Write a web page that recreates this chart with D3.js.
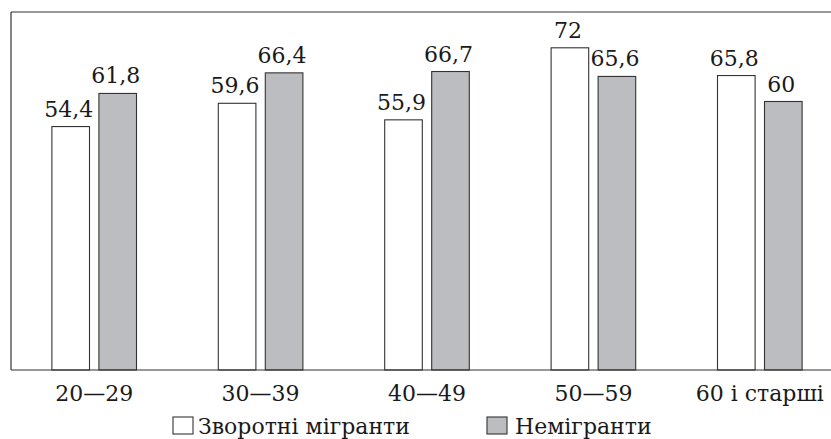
<!DOCTYPE html>
<html>
<head>
<meta charset="utf-8">
<script src="https://cdn.jsdelivr.net/npm/d3@7"></script>
<style>
  html, body { margin: 0; padding: 0; background: #fff; }
  svg { display: block; }
</style>
</head>
<body>
<script>
// age groups and the two series (percent)
const groups = ['20—29', '30—39', '40—49', '50—59', '60 і старші'];
const returnMigrants = [54.4, 59.6, 55.9, 72, 65.8];
const nonMigrants = [61.8, 66.4, 66.7, 65.6, 60];
const seriesNames = ['Зворотні мігранти', 'Немігранти'];
const seriesFill = ['#ffffff', '#bcbdc0'];

const FONT = "'DejaVu Serif', serif";
const width = 831;
const height = 439;
const margin = { top: 12, bottom: 69, left: 11 };
const step = 166.4;

const svg = d3.select('body').append('svg')
  .attr('width', width)
  .attr('height', height)
  .style('font-family', FONT);

const x = d3.scaleBand()
  .domain(groups)
  .range([margin.left, margin.left + step * groups.length]);

const inner = d3.scaleBand()
  .domain([0, 1])
  .range([x.bandwidth() / 2 - 42.3, x.bandwidth() / 2 + 42.3])
  .paddingInner(0.2);

const y = d3.scaleLinear()
  .domain([0, 80])
  .range([height - margin.bottom, margin.top]);

const fmt = v => String(v).replace('.', ',');

const rows = groups.map((g, i) => ({
  group: g,
  values: [returnMigrants[i], nonMigrants[i]],
}));

const g = svg.selectAll('g.group')
  .data(rows)
  .enter().append('g')
    .attr('class', 'group')
    .attr('transform', d => `translate(${x(d.group)},0)`);

g.selectAll('rect')
  .data(d => d.values.map((v, k) => ({ v, k })))
  .enter().append('rect')
    .attr('x', d => inner(d.k))
    .attr('y', d => y(d.v))
    .attr('width', inner.bandwidth())
    .attr('height', d => y(0) - y(d.v))
    .attr('fill', d => seriesFill[d.k])
    .attr('stroke', '#333')
    .attr('stroke-width', 1.1);

g.selectAll('text.value')
  .data(d => d.values.map((v, k) => ({ v, k })))
  .enter().append('text')
    .attr('class', 'value')
    .attr('x', d => inner(d.k) + inner.bandwidth() / 2 - 2)
    .attr('y', d => y(d.v) - 10)
    .attr('text-anchor', 'middle')
    .style('font-family', FONT)
    .attr('font-size', 22)
    .attr('fill', '#1a1a1a')
    .text(d => fmt(d.v));

// frame: left, top and baseline (no right edge, it runs off the picture)
const frame = svg.append('g')
  .attr('fill', 'none')
  .attr('stroke', '#333')
  .attr('stroke-width', 1.2);
frame.append('line')
  .attr('x1', margin.left).attr('x2', width)
  .attr('y1', y(80)).attr('y2', y(80));
frame.append('line')
  .attr('x1', margin.left).attr('x2', width)
  .attr('y1', y(0)).attr('y2', y(0));
frame.append('line')
  .attr('x1', margin.left).attr('x2', margin.left)
  .attr('y1', y(80)).attr('y2', y(0));

// category labels
svg.append('g')
  .attr('transform', `translate(0,${y(0)})`)
  .call(d3.axisBottom(x).tickSize(0).tickPadding(0))
  .call(sel => sel.select('.domain').remove())
  .attr('font-size', 22)
  .selectAll('text')
    .attr('dy', null)
    .attr('y', 31)
    .style('font-family', FONT)
    .attr('fill', '#1a1a1a');

// legend
const legendX = [173, 487];
const legend = svg.selectAll('g.legend')
  .data(seriesNames)
  .enter().append('g')
    .attr('class', 'legend')
    .attr('transform', (d, i) => `translate(${legendX[i]},417)`);
legend.append('rect')
  .attr('width', 20)
  .attr('height', 17)
  .attr('fill', (d, i) => seriesFill[i])
  .attr('stroke', '#333')
  .attr('stroke-width', 1.1);
legend.append('text')
  .attr('x', (d, i) => i ? 28 : 25)
  .attr('y', 17)
  .style('font-family', FONT)
  .attr('font-size', 22)
  .attr('fill', '#1a1a1a')
  .text(d => d);
</script>
</body>
</html>
